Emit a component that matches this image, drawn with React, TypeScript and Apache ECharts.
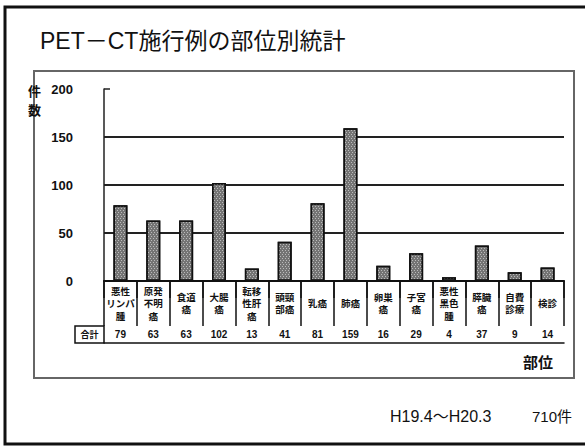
import React, { useEffect, useRef } from "react";
import * as echarts from "echarts";

// Body sites (line breaks as they appear in the table cells)
const categories = [
  "悪性\nリンパ\n腫",
  "原発\n不明\n癌",
  "食道\n癌",
  "大腸\n癌",
  "転移\n性肝\n癌",
  "頭頸\n部癌",
  "乳癌",
  "肺癌",
  "卵巣\n癌",
  "子宮\n癌",
  "悪性\n黒色\n腫",
  "膵臓\n癌",
  "自費\n診療",
  "検診",
];

// Number of PET-CT examinations per site
const counts = [79, 63, 63, 102, 13, 41, 81, 159, 16, 29, 4, 37, 9, 14];

const yMin = 0;
const yMax = 200;
const yStep = 50;

const title = "PET－CT施行例の部位別統計";
const period = "H19.4～H20.3";
const totalLabel = "合計";
const xName = "部位";
const yNameChars = ["件", "数"];

const FONT = "'Liberation Sans', 'Noto Sans CJK JP', sans-serif";

export default function App() {
  const ref = useRef<HTMLDivElement>(null);

  useEffect(() => {
    if (!ref.current) return;
    const chart = echarts.init(ref.current, null, { renderer: "svg" });
    const total = counts.reduce((a, b) => a + b, 0);
    const totals = counts.map((v) => String(v));

    const gridLeft = 104;
    const gridRight = 21;
    const gridTop = 89;
    const gridBottom = 165;
    const zeroY = 446 - gridBottom;
    const catRowH = 45;
    const sumRowH = 17;

    chart.setOption({
      animation: false,
      backgroundColor: "#ffffff",
      textStyle: { fontFamily: FONT },
      grid: { left: gridLeft, right: gridRight, top: gridTop, bottom: gridBottom },
      xAxis: [
        {
          type: "category",
          data: categories,
          position: "bottom",
          axisLine: { show: true, lineStyle: { color: "#111", width: 2 } },
          axisTick: {
            show: true,
            alignWithLabel: false,
            interval: 0,
            length: catRowH,
            lineStyle: { color: "#111", width: 1.5 },
          },
          axisLabel: {
            interval: 0,
            margin: catRowH / 2,
            verticalAlign: "middle",
            fontSize: 9.5,
            lineHeight: 12.5,
            fontWeight: "bold",
            color: "#111",
            fontFamily: FONT,
          },
          splitLine: { show: false },
        },
        {
          type: "category",
          data: totals,
          position: "bottom",
          offset: catRowH,
          axisLine: { show: true, lineStyle: { color: "#111", width: 1.5 } },
          axisTick: {
            show: true,
            alignWithLabel: false,
            interval: 0,
            length: sumRowH,
            lineStyle: { color: "#111", width: 1.5 },
          },
          axisLabel: {
            interval: 0,
            margin: sumRowH / 2,
            verticalAlign: "middle",
            fontSize: 10,
            fontWeight: "bold",
            color: "#111",
            fontFamily: FONT,
          },
          splitLine: { show: false },
        },
        {
          type: "category",
          data: totals,
          position: "bottom",
          offset: catRowH + sumRowH,
          axisLine: { show: true, lineStyle: { color: "#111", width: 1.5 } },
          axisTick: { show: false },
          axisLabel: { show: false },
          splitLine: { show: false },
        },
      ],
      yAxis: [
        {
          type: "value",
          min: yMin,
          max: yMax,
          interval: yStep,
          axisLine: { show: true, lineStyle: { color: "#222", width: 1.5 } },
          axisTick: { show: false },
          axisLabel: {
            margin: 31,
            fontSize: 13,
            fontWeight: "bold",
            color: "#111",
            fontFamily: FONT,
          },
          splitLine: {
            show: true,
            showMinLine: false,
            showMaxLine: false,
            lineStyle: { color: "#222", width: 2 },
          },
        },
        {
          // only carries the small inward tick at the top of the axis
          type: "value",
          position: "left",
          min: yMin,
          max: yMax,
          interval: yStep,
          axisLine: { show: false },
          axisTick: {
            show: true,
            inside: true,
            length: 6,
            customValues: [yMax],
            lineStyle: { color: "#222", width: 1.5 },
          },
          axisLabel: { show: false },
          splitLine: { show: false },
        },
      ],
      series: [
        {
          type: "bar",
          xAxisIndex: 0,
          yAxisIndex: 0,
          data: counts,
          barWidth: 14,
          itemStyle: {
            color: "#747474",
            borderColor: "#111",
            borderWidth: 1.5,
            decal: {
              color: "rgba(255,255,255,0.5)",
              symbol: "rect",
              symbolSize: 1,
              dashArrayX: [
                [1, 2],
                [0, 1, 1, 1],
              ],
              dashArrayY: [1, 1],
              rotation: 0,
            },
          },
        },
      ],
      graphic: [
        // outer frame
        {
          type: "rect",
          shape: { x: 5, y: 7, width: 600, height: 437 },
          style: { fill: "none", stroke: "#111", lineWidth: 3 },
          silent: true,
        },
        // chart frame
        {
          type: "rect",
          shape: { x: 34, y: 71, width: 540, height: 307 },
          style: { fill: "none", stroke: "#666", lineWidth: 2 },
          silent: true,
        },
        {
          type: "text",
          x: 40,
          y: 41,
          style: {
            text: title,
            fontSize: 23,
            fontFamily: FONT,
            fill: "#111",
            verticalAlign: "middle",
          },
        },
        ...yNameChars.map((ch, i) => ({
          type: "text",
          x: 28,
          y: 91 + i * 19,
          style: {
            text: ch,
            fontSize: 13,
            fontWeight: "bold",
            fontFamily: FONT,
            fill: "#111",
            verticalAlign: "middle",
          },
        })),
        // label cell of the totals row
        {
          type: "rect",
          shape: { x: 75, y: zeroY + catRowH, width: gridLeft - 75, height: sumRowH },
          style: { fill: "none", stroke: "#111", lineWidth: 1.5 },
          silent: true,
        },
        {
          type: "text",
          x: (75 + gridLeft) / 2,
          y: zeroY + catRowH + sumRowH / 2,
          style: {
            text: totalLabel,
            fontSize: 9,
            fontWeight: "bold",
            fontFamily: FONT,
            fill: "#111",
            align: "center",
            verticalAlign: "middle",
          },
        },
        {
          type: "text",
          x: 553,
          y: 362,
          style: {
            text: xName,
            fontSize: 15,
            fontWeight: "bold",
            fontFamily: FONT,
            fill: "#111",
            align: "right",
            verticalAlign: "middle",
          },
        },
        {
          type: "text",
          x: 390,
          y: 416,
          style: {
            text: period,
            fontSize: 16,
            fontFamily: FONT,
            fill: "#111",
            verticalAlign: "middle",
          },
        },
        {
          type: "text",
          x: 572,
          y: 416,
          style: {
            text: `${total}件`,
            fontSize: 15,
            fontFamily: FONT,
            fill: "#111",
            align: "right",
            verticalAlign: "middle",
          },
        },
      ],
    });

    return () => chart.dispose();
  }, []);

  return (
    <div
      ref={ref}
      style={{ position: "fixed", left: 0, top: 0, width: 585, height: 446, background: "#fff" }}
    />
  );
}
